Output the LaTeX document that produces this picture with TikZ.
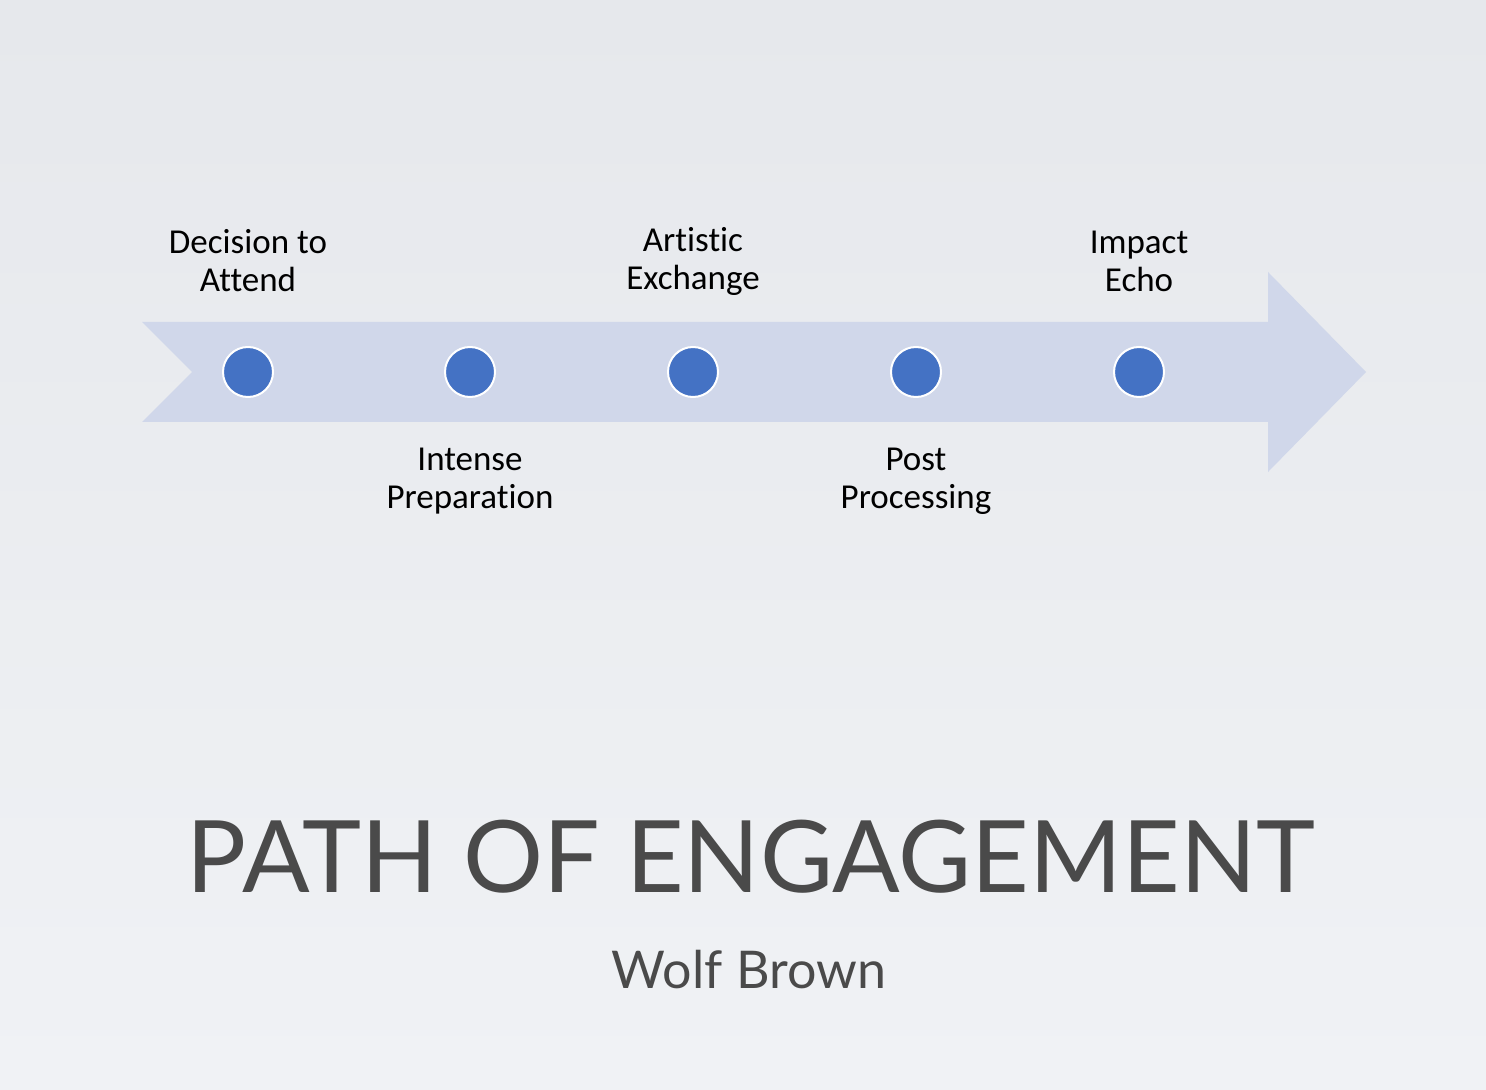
\documentclass[tikz,border=0pt]{standalone}
\usepackage{fontspec}
\setmainfont{Carlito}[Ligatures={NoCommon}]
\newfontfamily\titlefont{Lato}
\begin{document}
\begin{tikzpicture}[x=0.5pt,y=-0.5pt]
\definecolor{bandc}{HTML}{D0D7EA}
\definecolor{dotc}{HTML}{4472C4}
\definecolor{titc}{HTML}{4A4A4A}
\tikzset{dot/.style={circle,fill=dotc,draw=white,line width=1pt,minimum size=25pt,inner sep=0pt},
lab/.style={align=center,font=\fontsize{17.5}{19}\selectfont}}
\shade[top color={rgb,255:red,230;green,232;blue,236},bottom color={rgb,255:red,240;green,242;blue,245}] (0,0) rectangle (1486,1090);
\useasboundingbox (0,0) rectangle (1486,1090);
\fill[bandc] (142,322) -- (1268,322) -- (1268,272) -- (1366,372) -- (1268,472) -- (1268,422) -- (142,422) -- (192,372) -- cycle;
\node[dot] (d1) at (248,372) {};
\node[dot] (d2) at (470,372) {};
\node[dot] (d3) at (693,372) {};
\node[dot] (d4) at (916,372) {};
\node[dot] (d5) at (1139,372) {};
\node[lab] (l1) at (248,261) {Decision to\\Attend};
\node[lab] (l2) at (470,481) {Intense\\Preparation};
\node[lab] (l3) at (693,261) {Artistic\\Exchange};
\node[lab] (l4) at (916,481) {Post\\Processing};
\node[lab] (l5) at (1139,261) {Impact\\Echo};
\node[text=titc,font=\titlefont\fontsize{50}{56}\selectfont] (t) at (751,857) {PATH OF ENGAGEMENT};
\node[text=titc,font=\titlefont\fontsize{26}{30}\selectfont] (s) at (749,970) {Wolf Brown};
\end{tikzpicture}
\end{document}
